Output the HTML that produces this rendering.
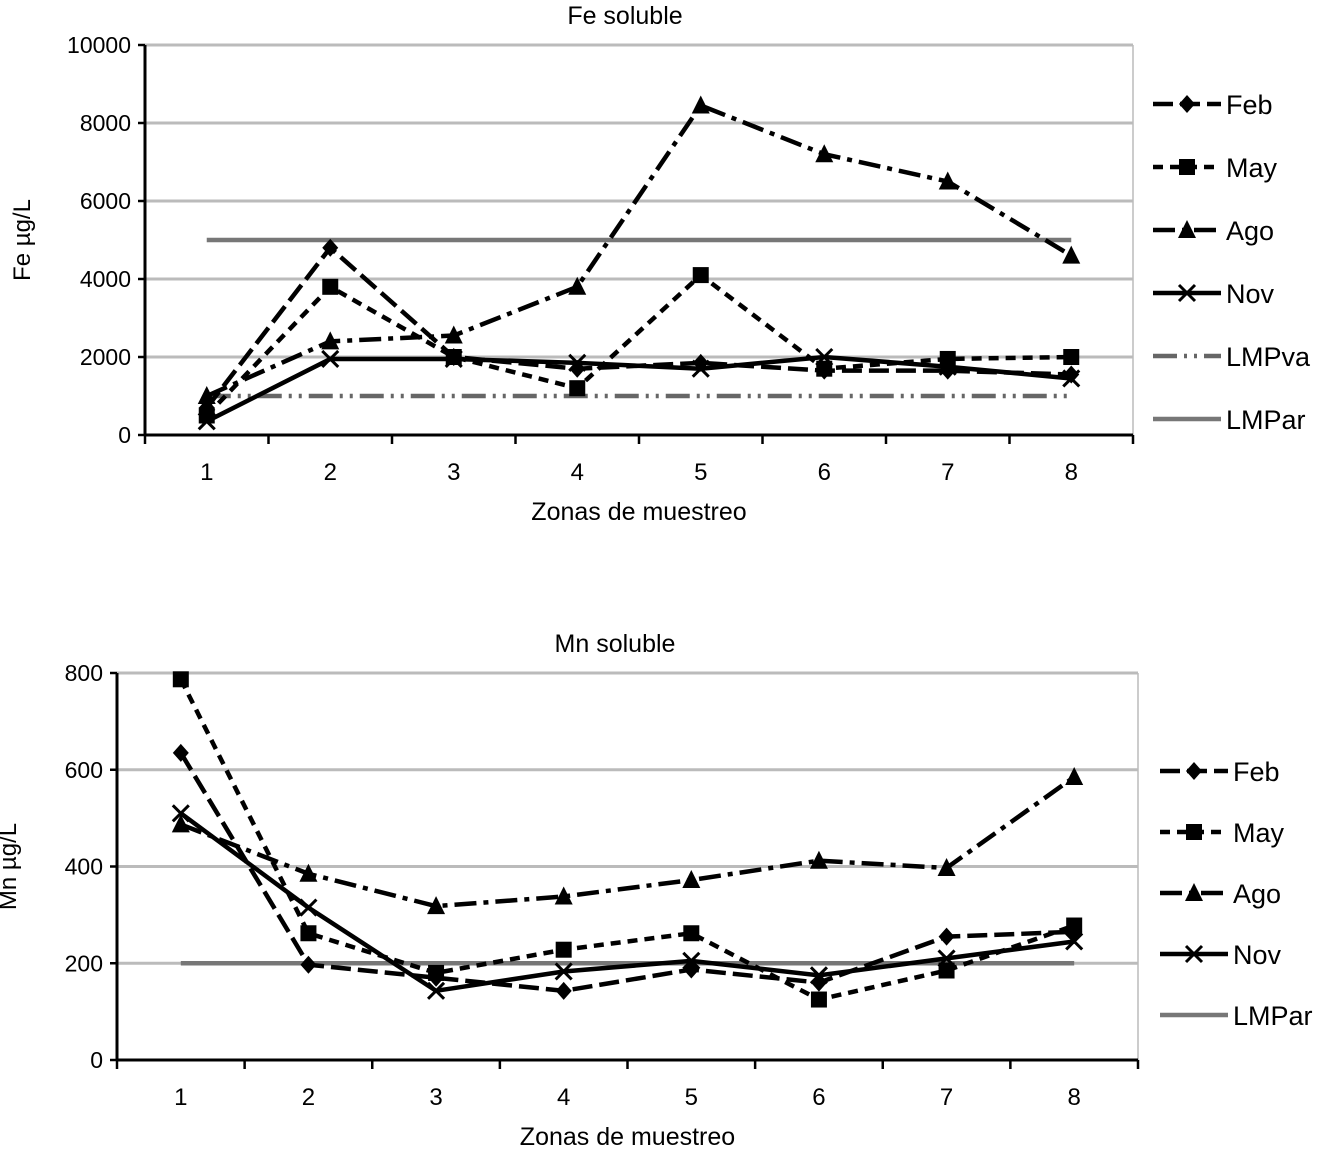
<!DOCTYPE html>
<html><head><meta charset="utf-8"><style>
body{margin:0;background:#fff}
svg{display:block;font-family:"Liberation Sans",sans-serif}
</style></head><body>
<svg id="s" width="1323" height="1149" viewBox="0 0 1323 1149"></svg>
<script>
const cats=["1","2","3","4","5","6","7","8"];
const feFeb=[700,4800,2000,1700,1850,1650,1650,1550];
const feMay=[500,3800,2000,1200,4100,1700,1950,2000];
const feAgo=[1000,2400,2550,3800,8450,7200,6500,4600];
const feNov=[350,1950,1950,1850,1700,2000,1750,1450];
const feLMPva=1000, feLMPar=5000;
const feTicks=[0,2000,4000,6000,8000,10000];
const mnFeb=[635,197,170,143,187,160,255,265];
const mnMay=[787,262,180,228,262,125,185,278];
const mnAgo=[487,385,318,338,372,412,397,585];
const mnNov=[510,315,143,183,205,175,210,245];
const mnLMPar=200;
const mnTicks=[0,200,400,600,800];

const S=document.getElementById('s');const NS='http://www.w3.org/2000/svg';
function mk(t,a,p){const e=document.createElementNS(NS,t);for(const k in a)e.setAttribute(k,a[k]);(p||S).appendChild(e);return e;}
const styles={Feb:'20,7',May:'10,7',Ago:'22,7,5,7',Nov:'none'};
function marker(g,type,x,y){
  if(type==='Feb'){const m=mk('path',{d:`M${x},${y-9}L${x+8},${y}L${x},${y+9}L${x-8},${y}Z`,fill:'#000'},g);}
  else if(type==='May'){const m=mk('rect',{x:x-8,y:y-8,width:16,height:16,fill:'#000'},g);}
  else if(type==='Ago'){const m=mk('path',{d:`M${x},${y-10}L${x+9},${y+8}L${x-9},${y+8}Z`,fill:'#000'},g);}
  else {const m=mk('path',{d:`M${x-8},${y-8}L${x+8},${y+8}M${x+8},${y-8}L${x-8},${y+8}`,stroke:'#000','stroke-width':3},g);}
}
function chart(o){
  const {L,R,T,B,max,ticks,series,limits,title,titleX,ylab,ylabX,legX,legY,legStep,legNames,pre}=o;
  const g=mk('g',{});
  const n=cats.length,w=(R-L)/n;
  const X=i=>L+w*(i+0.5), Y=v=>B-(v/max)*(B-T);
  mk('line',{x1:R,y1:T,x2:R,y2:B,stroke:'#ccc','stroke-width':2},g);
  ticks.forEach(t=>{
    if(t>0){const l=mk('line',{x1:L,y1:Y(t),x2:R,y2:Y(t),stroke:'#bbb','stroke-width':3},g);}
    mk('line',{x1:L-7,y1:Y(t),x2:L,y2:Y(t),stroke:'#000','stroke-width':2.5},g);
    const tx=mk('text',{x:L-14,y:Y(t)+8,'text-anchor':'end','font-size':23},g);tx.textContent=t;
  });
  mk('line',{x1:L,y1:T,x2:L,y2:B,stroke:'#000','stroke-width':3},g);
  mk('line',{x1:L,y1:B,x2:R,y2:B,stroke:'#000','stroke-width':3},g);
  for(let i=0;i<=n;i++)mk('line',{x1:L+w*i,y1:B,x2:L+w*i,y2:B+9,stroke:'#000','stroke-width':2.5},g);
  cats.forEach((c,i)=>{const tx=mk('text',{x:X(i),y:B+45,'text-anchor':'middle','font-size':24},g);tx.textContent=c;});
  const xt=mk('text',{x:(L+R)/2,y:B+85,'text-anchor':'middle','font-size':25},g);xt.textContent='Zonas de muestreo';
  const tt=mk('text',{x:titleX,y:T-21,'text-anchor':'middle','font-size':25},g);tt.textContent=title;
  const yt=mk('text',{x:0,y:0,'text-anchor':'middle','font-size':24,transform:`translate(${ylabX},${(T+B)/2}) rotate(-90)`},g);yt.textContent=ylab;
  limits.forEach(l=>{const ln=mk('line',{x1:X(0),y1:Y(l.v),x2:X(n-1),y2:Y(l.v),stroke:l.c,'stroke-width':4.5,'stroke-dasharray':l.d},g);});
  series.forEach(s=>{
    const sg=mk('g',{},g);
    mk('polyline',{points:s.d.map((v,i)=>X(i)+','+Y(v)).join(' '),fill:'none',stroke:'#000','stroke-width':4.5,'stroke-dasharray':styles[s.name]},sg);
    s.d.forEach((v,i)=>marker(sg,s.name,X(i),Y(v)));
  });
  legNames.forEach((nm,i)=>{
    const y=legY+i*legStep;const lg=mk('g',{},g);
    const lim=limits.find(l=>l.name===nm);
    if(lim)mk('line',{x1:legX,y1:y,x2:legX+68,y2:y,stroke:lim.c,'stroke-width':4.5,'stroke-dasharray':lim.d},lg);
    else{mk('line',{x1:legX,y1:y,x2:legX+68,y2:y,stroke:'#000','stroke-width':4.5,'stroke-dasharray':styles[nm]},lg);marker(lg,nm,legX+34,y);}
    const t=mk('text',{x:legX+73,y:y+10,'font-size':27},lg);t.textContent=nm;
  });
}
chart({pre:'fe',L:145,R:1133,T:45,B:435,max:10000,ticks:feTicks,title:'Fe   soluble',titleX:625,ylab:'Fe µg/L',ylabX:30,
  series:[{name:'Feb',d:feFeb},{name:'May',d:feMay},{name:'Ago',d:feAgo},{name:'Nov',d:feNov}],
  limits:[{name:'LMPva',v:feLMPva,c:'#666',d:'24,7,3,7,3,7'},{name:'LMPar',v:feLMPar,c:'#777',d:'none'}],
  legX:1153,legY:104,legStep:63,legNames:['Feb','May','Ago','Nov','LMPva','LMPar']});
chart({pre:'mn',L:117,R:1138,T:673,B:1060,max:800,ticks:mnTicks,title:'Mn   soluble',titleX:615,ylab:'Mn µg/L',ylabX:16,
  series:[{name:'Feb',d:mnFeb},{name:'May',d:mnMay},{name:'Ago',d:mnAgo},{name:'Nov',d:mnNov}],
  limits:[{name:'LMPar',v:mnLMPar,c:'#777',d:'none'}],
  legX:1160,legY:771,legStep:61,legNames:['Feb','May','Ago','Nov','LMPar']});
</script>
</body></html>
